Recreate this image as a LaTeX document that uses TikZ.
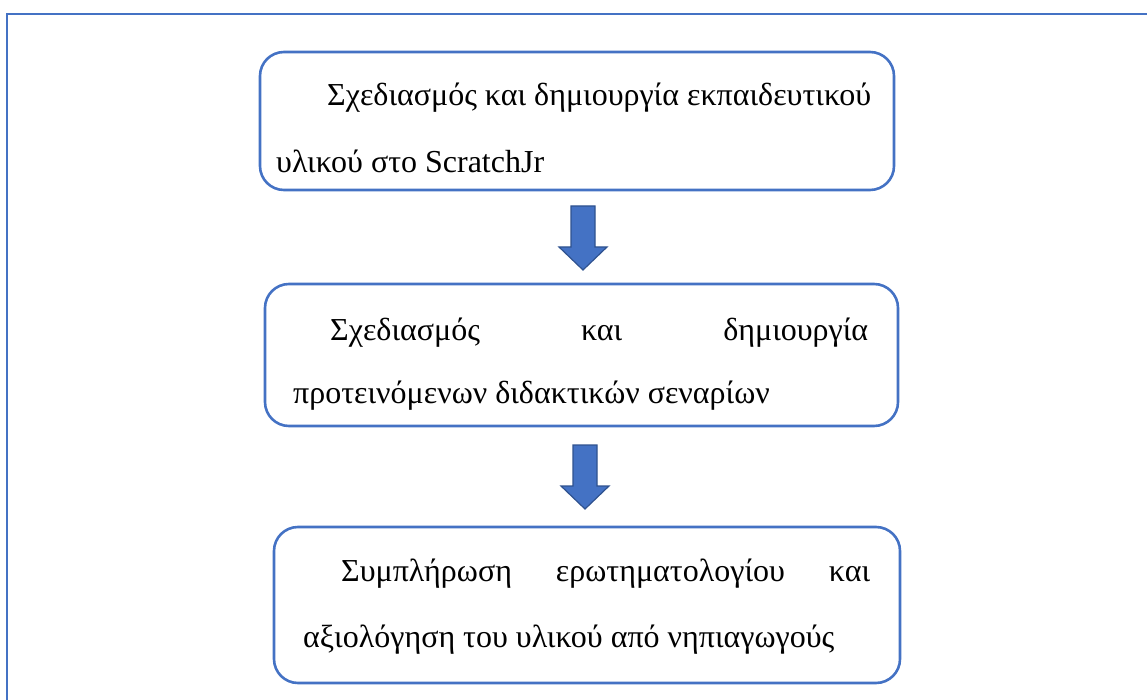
\documentclass[tikz,border=0pt]{standalone}
\usepackage{fontspec}
\setmainfont{Liberation Serif}
\definecolor{boxblue}{HTML}{4472C4}
\definecolor{darkblue}{HTML}{2F528F}
\tikzset{
  x=1pt, y=-1pt,
  stagebox/.style={draw=boxblue, line width=2.6pt, rounded corners=24pt, inner sep=0pt},
  txt/.style={anchor=base west, inner sep=0pt, font=\fontsize{32}{38}\selectfont},
  blockarrow/.style={fill=boxblue, draw=darkblue, line width=1.2pt, line join=miter},
  frameline/.style={draw=boxblue, line width=1.8pt}
}
\begin{document}
\begin{tikzpicture}
\useasboundingbox (0,0) rectangle (1147,700);
% outer frame (runs off the right and bottom)
\draw[frameline] (7,702) -- (7,14) -- (1149,14);
% boxes
\node[stagebox, minimum width=634pt, minimum height=138pt] (b1) at (577,121) {};
\node[stagebox, minimum width=633pt, minimum height=142pt] (b2) at (581.5,355) {};
\node[stagebox, minimum width=626pt, minimum height=156pt] (b3) at (587,605) {};
% texts
\node[txt] (t11) at (327,106) {Σχεδιασμός και δημιουργία εκπαιδευτικού};
\node[txt] (t12) at (276,173) {υλικού στο ScratchJr};
\node[txt] (t21) at (330,340) {\hbox to 538pt{Σχεδιασμός\hfill και\hfill δημιουργία}};
\node[txt] (t22) at (293,403) {προτεινόμενων διδακτικών σεναρίων};
\node[txt] (t31) at (341,581) {\hbox to 529pt{Συμπλήρωση\hfill ερωτηματολογίου\hfill και}};
\node[txt] (t32) at (303,647) {αξιολόγηση του υλικού από νηπιαγωγούς};
% block arrows
\coordinate (a1) at (583,206);
\coordinate (a2) at (585,445);
\draw[blockarrow, shift={(a1)}] (-12,0) -- (12,0) -- (12,41) -- (24,41) -- (0,64) -- (-24,41) -- (-12,41) -- cycle;
\draw[blockarrow, shift={(a2)}] (-12,0) -- (12,0) -- (12,41) -- (24,41) -- (0,64) -- (-24,41) -- (-12,41) -- cycle;
\end{tikzpicture}
\end{document}
